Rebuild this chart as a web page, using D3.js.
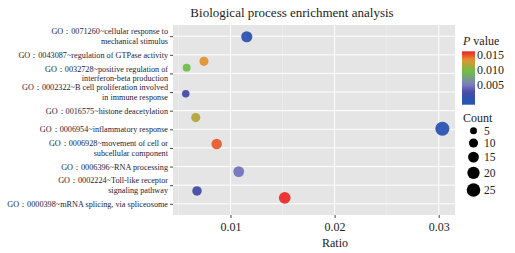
<!DOCTYPE html>
<html><head><meta charset="utf-8">
<script src="https://cdn.jsdelivr.net/npm/d3@7"></script>
<style>body{margin:0;background:#fff}svg{display:block}</style>
</head><body>
<svg id="c" width="515" height="253"></svg>
<script>
// ---- data ----
const terms = [
  ["GO：0071260~cellular response to","mechanical stimulus"],
  ["GO：0043087~regulation of GTPase activity"],
  ["GO：0032728~positive regulation of","interferon-beta production"],
  ["GO：0002322~B cell proliferation involved","in immune response"],
  ["GO：0016575~histone deacetylation"],
  ["GO：0006954~inflammatory response"],
  ["GO：0006928~movement of cell or","subcellular component"],
  ["GO：0006396~RNA processing"],
  ["GO：0002224~Toll-like receptor","signaling pathway"],
  ["GO：0000398~mRNA splicing, via spliceosome"]
];
const ratio  = [0.01156,0.00745,0.00579,0.00570,0.00666,0.03035,0.00867,0.01079,0.00678,0.01521];
const dotRow = [1.03,2.35,2.69,4.09,5.37,5.97,6.79,8.27,9.31,9.68];
const pValue = [0.0002,0.0135,0.0095,0.0025,0.0119,0.0001,0.0148,0.0045,0.0022,0.0160];
const count  = [16,10,7,6,10,27,14,15,11,18];
const xTicks = [0.01,0.02,0.03];
const xMinor = [0.005,0.015,0.025];
const pTicks = [0.005,0.010,0.015];
const countTicks = [5,10,15,20,25];

// ---- layout ----
const FF = '"Liberation Serif","DejaVu Serif","Noto Serif","Times New Roman",Times,Tinos,FreeSerif,"Nimbus Roman","Nimbus Roman No9 L",serif';
const svg = d3.select("#c");
const P = {l:173, r:455, t:25, b:215};
const x = d3.scaleLinear().domain([0.004476,0.031566]).range([P.l,P.r]);
const y = d3.scaleLinear().domain([0.4,10.6]).range([P.t,P.b]);
const colStops = [0.0000,0.0025,0.005,0.0095,0.0135,0.016];
const colors = d3.scaleLinear().domain(colStops)
  .range(["#2a53b2","#4a4aa6","#7d7cc4","#6dc046","#e39230","#ec2b2b"]).clamp(true);
const area = d3.scaleLinear().domain([5,25]).range([3.5*3.5,6.8*6.8]);
const rad = c => Math.sqrt(area(c));
const T = (sel)=>sel.append("text").style("font-family",FF).attr("fill","#222");

// title
T(svg).attr("x",292).attr("y",17).attr("text-anchor","middle")
  .attr("font-size",13).text("Biological process enrichment analysis");

// panel
svg.append("rect").attr("x",P.l).attr("y",P.t).attr("width",P.r-P.l).attr("height",P.b-P.t).attr("fill","#e5e5e5");
const g = svg.append("g");
xMinor.forEach(v=>g.append("line").attr("x1",x(v)).attr("x2",x(v)).attr("y1",P.t).attr("y2",P.b).attr("stroke","#f2f2f2").attr("stroke-width",0.6));
xTicks.forEach(v=>g.append("line").attr("x1",x(v)).attr("x2",x(v)).attr("y1",P.t).attr("y2",P.b).attr("stroke","#fff").attr("stroke-width",1));
terms.forEach((t,i)=>g.append("line").attr("x1",P.l).attr("x2",P.r).attr("y1",y(i+1)).attr("y2",y(i+1)).attr("stroke","#fff").attr("stroke-width",1));

// axes
const xa = svg.append("g").attr("transform",`translate(0,${P.b})`)
  .call(d3.axisBottom(x).tickValues(xTicks).tickFormat(d3.format(".2f")).tickSize(3).tickPadding(4));
xa.attr("font-size",12);
xa.select(".domain").remove();
xa.selectAll("line").attr("stroke","#444");
xa.selectAll("text").attr("fill","#222").style("font-family",FF);

const ya = svg.append("g").attr("transform",`translate(${P.l},0)`)
  .call(d3.axisLeft(y).tickValues(d3.range(1,11)).tickSize(3).tickFormat(""));
ya.select(".domain").remove();
ya.selectAll("line").attr("stroke","#444");

// y labels
const lh = 9.6;
terms.forEach((t,i)=>{
  const tx = T(svg).attr("x",P.l-5).attr("text-anchor","end")
    .attr("font-size",8.2).attr("fill","#1c1c3a");
  const y0 = y(i+1) - (t.length-1)*lh/2 + 3;
  t.forEach((s,k)=>tx.append("tspan").attr("x",P.l-5).attr("y",y0+k*lh).text(s));
});

// points
svg.append("g").selectAll("circle").data(ratio).join("circle")
  .attr("cx",(d)=>x(d)).attr("cy",(d,i)=>y(dotRow[i]))
  .attr("r",(d,i)=>rad(count[i])).attr("fill",(d,i)=>colors(pValue[i])).attr("opacity",0.95);

// x title
T(svg).attr("x",335).attr("y",247).attr("text-anchor","middle").attr("font-size",12).text("Ratio");

// legend: P value
const lg = svg.append("g");
const pt = T(lg).attr("x",463).attr("y",45).attr("font-size",12);
pt.append("tspan").attr("font-style","italic").text("P");
pt.append("tspan").text(" value");
const ly = d3.scaleLinear().domain([-0.0018,0.0164]).range([104.7,51.3]);
const grad = svg.append("defs").append("linearGradient").attr("id","pg").attr("x1",0).attr("x2",0).attr("y1",1).attr("y2",0);
d3.range(0,1.0001,0.05).forEach(f=>{
  const v = ly.domain()[0] + f*(ly.domain()[1]-ly.domain()[0]);
  grad.append("stop").attr("offset",f).attr("stop-color",colors(v));
});
lg.append("rect").attr("x",462).attr("y",ly(0.0164)).attr("width",13).attr("height",ly(-0.0018)-ly(0.0164)).attr("fill","url(#pg)");
pTicks.forEach(v=>{
  T(lg).attr("x",477).attr("y",ly(v)+4).attr("font-size",12).text(d3.format(".3f")(v));
});

// legend: Count
T(lg).attr("x",463).attr("y",122).attr("font-size",12).text("Count");
let cy = 130.7, prev = null;
countTicks.forEach(c=>{
  const r = rad(c);
  if(prev!==null) cy += prev + r + 4.2;
  lg.append("circle").attr("cx",473.5).attr("cy",cy).attr("r",r).attr("fill","#000");
  T(lg).attr("x",484).attr("y",cy+3.8).attr("font-size",11.5).text(c);
  prev = r;
});
</script>
</body></html>
